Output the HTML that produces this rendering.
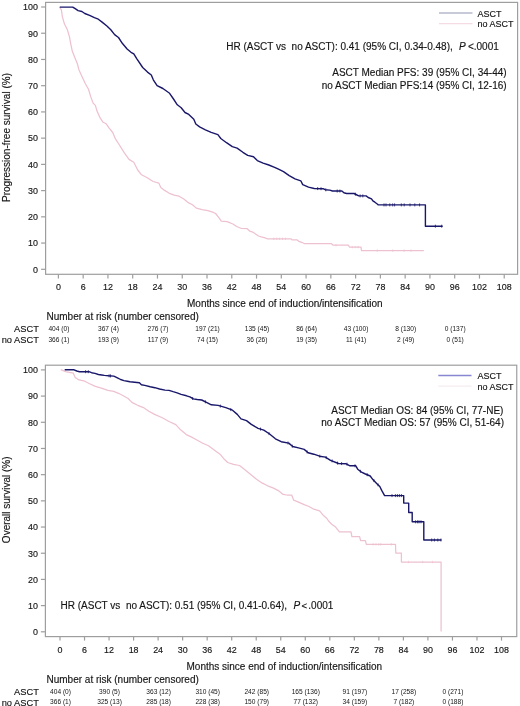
<!DOCTYPE html>
<html><head><meta charset="utf-8"><style>
html,body{margin:0;padding:0;background:#fff;}
svg{display:block;will-change:transform;}
text{font-family:"Liberation Sans", sans-serif;fill:#151515;stroke:#151515;stroke-width:0.15px;}
</style></head><body>
<svg width="520" height="706" viewBox="0 0 520 706">
<rect x="45.6" y="2.4" width="472.0" height="271.90000000000003" fill="none" stroke="#9e9e9e" stroke-width="1.2"/>
<line x1="41.1" y1="269.30" x2="45.6" y2="269.30" stroke="#9e9e9e" stroke-width="1.2"/>
<text font-size="9.7" text-anchor="end" transform="translate(38.0,272.60) scale(0.92,1)">0</text>
<line x1="41.1" y1="243.07" x2="45.6" y2="243.07" stroke="#9e9e9e" stroke-width="1.2"/>
<text font-size="9.7" text-anchor="end" transform="translate(38.0,246.37) scale(0.92,1)">10</text>
<line x1="41.1" y1="216.84" x2="45.6" y2="216.84" stroke="#9e9e9e" stroke-width="1.2"/>
<text font-size="9.7" text-anchor="end" transform="translate(38.0,220.14) scale(0.92,1)">20</text>
<line x1="41.1" y1="190.61" x2="45.6" y2="190.61" stroke="#9e9e9e" stroke-width="1.2"/>
<text font-size="9.7" text-anchor="end" transform="translate(38.0,193.91) scale(0.92,1)">30</text>
<line x1="41.1" y1="164.38" x2="45.6" y2="164.38" stroke="#9e9e9e" stroke-width="1.2"/>
<text font-size="9.7" text-anchor="end" transform="translate(38.0,167.68) scale(0.92,1)">40</text>
<line x1="41.1" y1="138.15" x2="45.6" y2="138.15" stroke="#9e9e9e" stroke-width="1.2"/>
<text font-size="9.7" text-anchor="end" transform="translate(38.0,141.45) scale(0.92,1)">50</text>
<line x1="41.1" y1="111.92" x2="45.6" y2="111.92" stroke="#9e9e9e" stroke-width="1.2"/>
<text font-size="9.7" text-anchor="end" transform="translate(38.0,115.22) scale(0.92,1)">60</text>
<line x1="41.1" y1="85.69" x2="45.6" y2="85.69" stroke="#9e9e9e" stroke-width="1.2"/>
<text font-size="9.7" text-anchor="end" transform="translate(38.0,88.99) scale(0.92,1)">70</text>
<line x1="41.1" y1="59.46" x2="45.6" y2="59.46" stroke="#9e9e9e" stroke-width="1.2"/>
<text font-size="9.7" text-anchor="end" transform="translate(38.0,62.76) scale(0.92,1)">80</text>
<line x1="41.1" y1="33.23" x2="45.6" y2="33.23" stroke="#9e9e9e" stroke-width="1.2"/>
<text font-size="9.7" text-anchor="end" transform="translate(38.0,36.53) scale(0.92,1)">90</text>
<line x1="41.1" y1="7.00" x2="45.6" y2="7.00" stroke="#9e9e9e" stroke-width="1.2"/>
<text font-size="9.7" text-anchor="end" transform="translate(38.0,10.30) scale(0.92,1)">100</text>
<line x1="58.40" y1="274.3" x2="58.40" y2="278.6" stroke="#9e9e9e" stroke-width="1.2"/>
<text font-size="9.7" text-anchor="middle" transform="translate(58.40,290.40000000000003) scale(0.92,1)">0</text>
<line x1="83.17" y1="274.3" x2="83.17" y2="278.6" stroke="#9e9e9e" stroke-width="1.2"/>
<text font-size="9.7" text-anchor="middle" transform="translate(83.17,290.40000000000003) scale(0.92,1)">6</text>
<line x1="107.94" y1="274.3" x2="107.94" y2="278.6" stroke="#9e9e9e" stroke-width="1.2"/>
<text font-size="9.7" text-anchor="middle" transform="translate(107.94,290.40000000000003) scale(0.92,1)">12</text>
<line x1="132.70" y1="274.3" x2="132.70" y2="278.6" stroke="#9e9e9e" stroke-width="1.2"/>
<text font-size="9.7" text-anchor="middle" transform="translate(132.70,290.40000000000003) scale(0.92,1)">18</text>
<line x1="157.47" y1="274.3" x2="157.47" y2="278.6" stroke="#9e9e9e" stroke-width="1.2"/>
<text font-size="9.7" text-anchor="middle" transform="translate(157.47,290.40000000000003) scale(0.92,1)">24</text>
<line x1="182.24" y1="274.3" x2="182.24" y2="278.6" stroke="#9e9e9e" stroke-width="1.2"/>
<text font-size="9.7" text-anchor="middle" transform="translate(182.24,290.40000000000003) scale(0.92,1)">30</text>
<line x1="207.01" y1="274.3" x2="207.01" y2="278.6" stroke="#9e9e9e" stroke-width="1.2"/>
<text font-size="9.7" text-anchor="middle" transform="translate(207.01,290.40000000000003) scale(0.92,1)">36</text>
<line x1="231.78" y1="274.3" x2="231.78" y2="278.6" stroke="#9e9e9e" stroke-width="1.2"/>
<text font-size="9.7" text-anchor="middle" transform="translate(231.78,290.40000000000003) scale(0.92,1)">42</text>
<line x1="256.54" y1="274.3" x2="256.54" y2="278.6" stroke="#9e9e9e" stroke-width="1.2"/>
<text font-size="9.7" text-anchor="middle" transform="translate(256.54,290.40000000000003) scale(0.92,1)">48</text>
<line x1="281.31" y1="274.3" x2="281.31" y2="278.6" stroke="#9e9e9e" stroke-width="1.2"/>
<text font-size="9.7" text-anchor="middle" transform="translate(281.31,290.40000000000003) scale(0.92,1)">54</text>
<line x1="306.08" y1="274.3" x2="306.08" y2="278.6" stroke="#9e9e9e" stroke-width="1.2"/>
<text font-size="9.7" text-anchor="middle" transform="translate(306.08,290.40000000000003) scale(0.92,1)">60</text>
<line x1="330.85" y1="274.3" x2="330.85" y2="278.6" stroke="#9e9e9e" stroke-width="1.2"/>
<text font-size="9.7" text-anchor="middle" transform="translate(330.85,290.40000000000003) scale(0.92,1)">66</text>
<line x1="355.62" y1="274.3" x2="355.62" y2="278.6" stroke="#9e9e9e" stroke-width="1.2"/>
<text font-size="9.7" text-anchor="middle" transform="translate(355.62,290.40000000000003) scale(0.92,1)">72</text>
<line x1="380.38" y1="274.3" x2="380.38" y2="278.6" stroke="#9e9e9e" stroke-width="1.2"/>
<text font-size="9.7" text-anchor="middle" transform="translate(380.38,290.40000000000003) scale(0.92,1)">78</text>
<line x1="405.15" y1="274.3" x2="405.15" y2="278.6" stroke="#9e9e9e" stroke-width="1.2"/>
<text font-size="9.7" text-anchor="middle" transform="translate(405.15,290.40000000000003) scale(0.92,1)">84</text>
<line x1="429.92" y1="274.3" x2="429.92" y2="278.6" stroke="#9e9e9e" stroke-width="1.2"/>
<text font-size="9.7" text-anchor="middle" transform="translate(429.92,290.40000000000003) scale(0.92,1)">90</text>
<line x1="454.69" y1="274.3" x2="454.69" y2="278.6" stroke="#9e9e9e" stroke-width="1.2"/>
<text font-size="9.7" text-anchor="middle" transform="translate(454.69,290.40000000000003) scale(0.92,1)">96</text>
<line x1="479.46" y1="274.3" x2="479.46" y2="278.6" stroke="#9e9e9e" stroke-width="1.2"/>
<text font-size="9.7" text-anchor="middle" transform="translate(479.46,290.40000000000003) scale(0.92,1)">102</text>
<line x1="504.22" y1="274.3" x2="504.22" y2="278.6" stroke="#9e9e9e" stroke-width="1.2"/>
<text font-size="9.7" text-anchor="middle" transform="translate(504.22,290.40000000000003) scale(0.92,1)">108</text>
<text x="187.0" y="307.3" font-size="10" text-anchor="start" >Months since end of induction/intensification</text>
<text x="0" y="0" font-size="10" text-anchor="middle" transform="translate(10.0,137.5) rotate(-90)">Progression-free survival (%)</text>
<line x1="439" y1="13.0" x2="472.5" y2="13.0" stroke="#9196b4" stroke-width="1.1"/>
<line x1="439" y1="23.6" x2="472.5" y2="23.6" stroke="#f5dbe3" stroke-width="1.2"/>
<text x="477.5" y="16.6" font-size="9" text-anchor="start" >ASCT</text>
<text x="477.5" y="27.2" font-size="9" text-anchor="start" >no ASCT</text>
<text x="46.5" y="320.0" font-size="10" text-anchor="start" >Number at risk (number censored)</text>
<text x="38.9" y="332.0" font-size="9.3" text-anchor="end" >ASCT</text>
<text x="38.9" y="343.0" font-size="9.3" text-anchor="end" >no ASCT</text>
<text x="58.90" y="331.0" font-size="6.6" text-anchor="middle" style="stroke-width:0">404 (0)</text>
<text x="58.90" y="341.7" font-size="6.6" text-anchor="middle" style="stroke-width:0">366 (1)</text>
<text x="108.44" y="331.0" font-size="6.6" text-anchor="middle" style="stroke-width:0">367 (4)</text>
<text x="108.44" y="341.7" font-size="6.6" text-anchor="middle" style="stroke-width:0">193 (9)</text>
<text x="157.97" y="331.0" font-size="6.6" text-anchor="middle" style="stroke-width:0">276 (7)</text>
<text x="157.97" y="341.7" font-size="6.6" text-anchor="middle" style="stroke-width:0">117 (9)</text>
<text x="207.51" y="331.0" font-size="6.6" text-anchor="middle" style="stroke-width:0">197 (21)</text>
<text x="207.51" y="341.7" font-size="6.6" text-anchor="middle" style="stroke-width:0">74 (15)</text>
<text x="257.04" y="331.0" font-size="6.6" text-anchor="middle" style="stroke-width:0">135 (45)</text>
<text x="257.04" y="341.7" font-size="6.6" text-anchor="middle" style="stroke-width:0">36 (26)</text>
<text x="306.58" y="331.0" font-size="6.6" text-anchor="middle" style="stroke-width:0">86 (64)</text>
<text x="306.58" y="341.7" font-size="6.6" text-anchor="middle" style="stroke-width:0">19 (35)</text>
<text x="356.12" y="331.0" font-size="6.6" text-anchor="middle" style="stroke-width:0">43 (100)</text>
<text x="356.12" y="341.7" font-size="6.6" text-anchor="middle" style="stroke-width:0">11 (41)</text>
<text x="405.65" y="331.0" font-size="6.6" text-anchor="middle" style="stroke-width:0">8 (130)</text>
<text x="405.65" y="341.7" font-size="6.6" text-anchor="middle" style="stroke-width:0">2 (49)</text>
<text x="455.19" y="331.0" font-size="6.6" text-anchor="middle" style="stroke-width:0">0 (137)</text>
<text x="455.19" y="341.7" font-size="6.6" text-anchor="middle" style="stroke-width:0">0 (51)</text>
<rect x="45.4" y="365.2" width="471.35" height="271.40000000000003" fill="none" stroke="#9e9e9e" stroke-width="1.2"/>
<line x1="40.9" y1="631.80" x2="45.4" y2="631.80" stroke="#9e9e9e" stroke-width="1.2"/>
<text font-size="9.7" text-anchor="end" transform="translate(38.0,635.10) scale(0.92,1)">0</text>
<line x1="40.9" y1="605.61" x2="45.4" y2="605.61" stroke="#9e9e9e" stroke-width="1.2"/>
<text font-size="9.7" text-anchor="end" transform="translate(38.0,608.91) scale(0.92,1)">10</text>
<line x1="40.9" y1="579.42" x2="45.4" y2="579.42" stroke="#9e9e9e" stroke-width="1.2"/>
<text font-size="9.7" text-anchor="end" transform="translate(38.0,582.72) scale(0.92,1)">20</text>
<line x1="40.9" y1="553.23" x2="45.4" y2="553.23" stroke="#9e9e9e" stroke-width="1.2"/>
<text font-size="9.7" text-anchor="end" transform="translate(38.0,556.53) scale(0.92,1)">30</text>
<line x1="40.9" y1="527.04" x2="45.4" y2="527.04" stroke="#9e9e9e" stroke-width="1.2"/>
<text font-size="9.7" text-anchor="end" transform="translate(38.0,530.34) scale(0.92,1)">40</text>
<line x1="40.9" y1="500.85" x2="45.4" y2="500.85" stroke="#9e9e9e" stroke-width="1.2"/>
<text font-size="9.7" text-anchor="end" transform="translate(38.0,504.15) scale(0.92,1)">50</text>
<line x1="40.9" y1="474.66" x2="45.4" y2="474.66" stroke="#9e9e9e" stroke-width="1.2"/>
<text font-size="9.7" text-anchor="end" transform="translate(38.0,477.96) scale(0.92,1)">60</text>
<line x1="40.9" y1="448.47" x2="45.4" y2="448.47" stroke="#9e9e9e" stroke-width="1.2"/>
<text font-size="9.7" text-anchor="end" transform="translate(38.0,451.77) scale(0.92,1)">70</text>
<line x1="40.9" y1="422.28" x2="45.4" y2="422.28" stroke="#9e9e9e" stroke-width="1.2"/>
<text font-size="9.7" text-anchor="end" transform="translate(38.0,425.58) scale(0.92,1)">80</text>
<line x1="40.9" y1="396.09" x2="45.4" y2="396.09" stroke="#9e9e9e" stroke-width="1.2"/>
<text font-size="9.7" text-anchor="end" transform="translate(38.0,399.39) scale(0.92,1)">90</text>
<line x1="40.9" y1="369.90" x2="45.4" y2="369.90" stroke="#9e9e9e" stroke-width="1.2"/>
<text font-size="9.7" text-anchor="end" transform="translate(38.0,373.20) scale(0.92,1)">100</text>
<line x1="60.00" y1="636.6" x2="60.00" y2="640.6" stroke="#9e9e9e" stroke-width="1.2"/>
<text font-size="9.7" text-anchor="middle" transform="translate(60.00,652.7) scale(0.92,1)">0</text>
<line x1="84.53" y1="636.6" x2="84.53" y2="640.6" stroke="#9e9e9e" stroke-width="1.2"/>
<text font-size="9.7" text-anchor="middle" transform="translate(84.53,652.7) scale(0.92,1)">6</text>
<line x1="109.06" y1="636.6" x2="109.06" y2="640.6" stroke="#9e9e9e" stroke-width="1.2"/>
<text font-size="9.7" text-anchor="middle" transform="translate(109.06,652.7) scale(0.92,1)">12</text>
<line x1="133.58" y1="636.6" x2="133.58" y2="640.6" stroke="#9e9e9e" stroke-width="1.2"/>
<text font-size="9.7" text-anchor="middle" transform="translate(133.58,652.7) scale(0.92,1)">18</text>
<line x1="158.11" y1="636.6" x2="158.11" y2="640.6" stroke="#9e9e9e" stroke-width="1.2"/>
<text font-size="9.7" text-anchor="middle" transform="translate(158.11,652.7) scale(0.92,1)">24</text>
<line x1="182.64" y1="636.6" x2="182.64" y2="640.6" stroke="#9e9e9e" stroke-width="1.2"/>
<text font-size="9.7" text-anchor="middle" transform="translate(182.64,652.7) scale(0.92,1)">30</text>
<line x1="207.17" y1="636.6" x2="207.17" y2="640.6" stroke="#9e9e9e" stroke-width="1.2"/>
<text font-size="9.7" text-anchor="middle" transform="translate(207.17,652.7) scale(0.92,1)">36</text>
<line x1="231.70" y1="636.6" x2="231.70" y2="640.6" stroke="#9e9e9e" stroke-width="1.2"/>
<text font-size="9.7" text-anchor="middle" transform="translate(231.70,652.7) scale(0.92,1)">42</text>
<line x1="256.22" y1="636.6" x2="256.22" y2="640.6" stroke="#9e9e9e" stroke-width="1.2"/>
<text font-size="9.7" text-anchor="middle" transform="translate(256.22,652.7) scale(0.92,1)">48</text>
<line x1="280.75" y1="636.6" x2="280.75" y2="640.6" stroke="#9e9e9e" stroke-width="1.2"/>
<text font-size="9.7" text-anchor="middle" transform="translate(280.75,652.7) scale(0.92,1)">54</text>
<line x1="305.28" y1="636.6" x2="305.28" y2="640.6" stroke="#9e9e9e" stroke-width="1.2"/>
<text font-size="9.7" text-anchor="middle" transform="translate(305.28,652.7) scale(0.92,1)">60</text>
<line x1="329.81" y1="636.6" x2="329.81" y2="640.6" stroke="#9e9e9e" stroke-width="1.2"/>
<text font-size="9.7" text-anchor="middle" transform="translate(329.81,652.7) scale(0.92,1)">66</text>
<line x1="354.34" y1="636.6" x2="354.34" y2="640.6" stroke="#9e9e9e" stroke-width="1.2"/>
<text font-size="9.7" text-anchor="middle" transform="translate(354.34,652.7) scale(0.92,1)">72</text>
<line x1="378.86" y1="636.6" x2="378.86" y2="640.6" stroke="#9e9e9e" stroke-width="1.2"/>
<text font-size="9.7" text-anchor="middle" transform="translate(378.86,652.7) scale(0.92,1)">78</text>
<line x1="403.39" y1="636.6" x2="403.39" y2="640.6" stroke="#9e9e9e" stroke-width="1.2"/>
<text font-size="9.7" text-anchor="middle" transform="translate(403.39,652.7) scale(0.92,1)">84</text>
<line x1="427.92" y1="636.6" x2="427.92" y2="640.6" stroke="#9e9e9e" stroke-width="1.2"/>
<text font-size="9.7" text-anchor="middle" transform="translate(427.92,652.7) scale(0.92,1)">90</text>
<line x1="452.45" y1="636.6" x2="452.45" y2="640.6" stroke="#9e9e9e" stroke-width="1.2"/>
<text font-size="9.7" text-anchor="middle" transform="translate(452.45,652.7) scale(0.92,1)">96</text>
<line x1="476.98" y1="636.6" x2="476.98" y2="640.6" stroke="#9e9e9e" stroke-width="1.2"/>
<text font-size="9.7" text-anchor="middle" transform="translate(476.98,652.7) scale(0.92,1)">102</text>
<line x1="501.50" y1="636.6" x2="501.50" y2="640.6" stroke="#9e9e9e" stroke-width="1.2"/>
<text font-size="9.7" text-anchor="middle" transform="translate(501.50,652.7) scale(0.92,1)">108</text>
<text x="186.5" y="669.7" font-size="10" text-anchor="start" >Months since end of induction/intensification</text>
<text x="0" y="0" font-size="10" text-anchor="middle" transform="translate(10.0,499.8) rotate(-90)">Overall survival (%)</text>
<line x1="438.3" y1="375.5" x2="471.5" y2="375.5" stroke="#8987d2" stroke-width="1.5"/>
<line x1="438.3" y1="386.1" x2="471.5" y2="386.1" stroke="#f6edf0" stroke-width="1.2"/>
<text x="477.5" y="379.1" font-size="9" text-anchor="start" >ASCT</text>
<text x="477.5" y="389.7" font-size="9" text-anchor="start" >no ASCT</text>
<text x="46.5" y="682.5" font-size="10" text-anchor="start" >Number at risk (number censored)</text>
<text x="38.9" y="694.5" font-size="9.3" text-anchor="end" >ASCT</text>
<text x="38.9" y="705.5" font-size="9.3" text-anchor="end" >no ASCT</text>
<text x="60.50" y="693.5" font-size="6.6" text-anchor="middle" style="stroke-width:0">404 (0)</text>
<text x="60.50" y="704.2" font-size="6.6" text-anchor="middle" style="stroke-width:0">366 (1)</text>
<text x="109.56" y="693.5" font-size="6.6" text-anchor="middle" style="stroke-width:0">390 (5)</text>
<text x="109.56" y="704.2" font-size="6.6" text-anchor="middle" style="stroke-width:0">325 (13)</text>
<text x="158.61" y="693.5" font-size="6.6" text-anchor="middle" style="stroke-width:0">363 (12)</text>
<text x="158.61" y="704.2" font-size="6.6" text-anchor="middle" style="stroke-width:0">285 (18)</text>
<text x="207.67" y="693.5" font-size="6.6" text-anchor="middle" style="stroke-width:0">310 (45)</text>
<text x="207.67" y="704.2" font-size="6.6" text-anchor="middle" style="stroke-width:0">228 (38)</text>
<text x="256.72" y="693.5" font-size="6.6" text-anchor="middle" style="stroke-width:0">242 (85)</text>
<text x="256.72" y="704.2" font-size="6.6" text-anchor="middle" style="stroke-width:0">150 (79)</text>
<text x="305.78" y="693.5" font-size="6.6" text-anchor="middle" style="stroke-width:0">165 (136)</text>
<text x="305.78" y="704.2" font-size="6.6" text-anchor="middle" style="stroke-width:0">77 (132)</text>
<text x="354.84" y="693.5" font-size="6.6" text-anchor="middle" style="stroke-width:0">91 (197)</text>
<text x="354.84" y="704.2" font-size="6.6" text-anchor="middle" style="stroke-width:0">34 (159)</text>
<text x="403.89" y="693.5" font-size="6.6" text-anchor="middle" style="stroke-width:0">17 (258)</text>
<text x="403.89" y="704.2" font-size="6.6" text-anchor="middle" style="stroke-width:0">7 (182)</text>
<text x="452.95" y="693.5" font-size="6.6" text-anchor="middle" style="stroke-width:0">0 (271)</text>
<text x="452.95" y="704.2" font-size="6.6" text-anchor="middle" style="stroke-width:0">0 (188)</text>
<text x="226.2" y="50.0" font-size="10" text-anchor="start" xml:space="preserve">HR (ASCT vs  no ASCT): 0.41 (95% CI, 0.34-0.48),</text>
<text x="458.9" y="50.0" font-size="10" text-anchor="start" font-style="italic">P</text>
<text x="467.9" y="50.0" font-size="10" text-anchor="start" >&lt;.0001</text>
<text x="506.6" y="75.8" font-size="10" text-anchor="end" >ASCT Median PFS: 39 (95% CI, 34-44)</text>
<text x="506.6" y="88.9" font-size="10" text-anchor="end" >no ASCT Median PFS:14 (95% CI, 12-16)</text>
<text x="503.4" y="413.5" font-size="10" text-anchor="end" >ASCT Median OS: 84 (95% CI, 77-NE)</text>
<text x="504.0" y="425.8" font-size="10" text-anchor="end" >no ASCT Median OS: 57 (95% CI, 51-64)</text>
<text x="60.5" y="609.3" font-size="10" text-anchor="start" xml:space="preserve">HR (ASCT vs  no ASCT): 0.51 (95% CI, 0.41-0.64),</text>
<text x="293.5" y="609.3" font-size="10" text-anchor="start" font-style="italic">P</text>
<text x="301.4" y="609.3" font-size="9.5" text-anchor="start" >&lt;</text>
<text x="308.3" y="609.3" font-size="10" text-anchor="start" >.0001</text>
<path d="M59.3,7.0 L61.4,9.9 L62.4,16.9 L64.4,23.8 L67.4,29.8 L69.4,36.7 L70.9,44.6 L72.4,51.6 L74.8,57.5 L77.3,63.5 L78.8,69.4 L81.5,75.4 L85.4,83.8 L88.5,89.2 L90.8,96.9 L93.1,103.1 L95.4,105.4 L96.9,110.8 L100.0,117.7 L103.1,122.3 L106.2,123.8 L108.8,127.7 L112.7,132.5 L115.6,139.2 L119.4,145.0 L124.2,152.7 L129.0,159.4 L133.8,162.3 L137.7,170.0 L141.5,174.8 L147.3,177.7 L153.1,181.5 L158.8,183.1 L160.8,187.5 L164.6,190.4 L169.4,193.3 L174.2,195.2 L179.0,196.2 L183.8,199.0 L188.7,202.9 L192.5,204.8 L196.3,208.1 L202.1,209.6 L207.9,210.6 L212.7,212.1 L215.6,213.5 L219.4,218.3 L221.3,221.2 L227.1,221.7 L232.9,224.0 L236.7,226.5 L241.5,228.5 L247.3,228.7 L249.8,231.2 L252.7,232.1 L255.6,234.0 L258.5,236.0 L261.3,236.9 L265.2,237.9 L267.1,238.8 L291.2,238.8 L292.1,239.8 L296.9,239.8 L298.8,241.3 L301.7,242.3 L304.6,243.7 L331.5,243.7 L333.1,245.2 L348.5,245.2 L349.4,247.1 L361.0,247.1 L361.5,250.6 L423.8,250.6" fill="none" stroke="#eec1cf" stroke-width="1.25" stroke-linejoin="round"/>
<path d="M60.8,369.7 L65.6,371.6 L73.3,373.2 L75.2,377.4 L79.0,379.9 L84.8,381.2 L89.6,383.7 L95.4,386.4 L102.1,388.3 L107.9,390.3 L113.7,391.4 L118.5,393.3 L123.3,395.7 L128.1,398.5 L131.9,402.4 L137.7,405.3 L143.5,407.6 L148.8,411.2 L154.6,414.4 L162.3,417.7 L169.0,421.5 L175.8,424.6 L180.6,429.8 L186.3,434.6 L191.2,436.9 L196.9,440.0 L202.7,443.3 L208.5,445.8 L214.2,450.0 L220.0,454.2 L223.8,458.7 L227.7,462.5 L233.5,464.4 L239.5,465.5 L244.6,469.4 L250.4,474.2 L256.2,479.0 L261.9,482.9 L267.7,485.8 L273.5,488.1 L278.3,490.6 L283.1,494.4 L286.9,495.0 L291.7,495.0 L293.7,500.2 L298.5,502.1 L304.2,504.6 L309.0,506.5 L313.8,509.2 L319.6,510.8 L323.5,515.6 L326.9,518.5 L328.8,521.3 L331.7,524.2 L335.6,527.1 L339.4,531.9 L351.0,531.9 L351.9,536.7 L359.6,536.7 L360.6,540.6 L365.4,540.6 L366.3,544.4 L395.5,544.4 L395.8,553.1 L401.4,553.1 L401.4,562.0 L441.1,562.0 L441.1,631.4" fill="none" stroke="#eec1cf" stroke-width="1.25" stroke-linejoin="round"/>
<path d="M273.8,237.6 V240.0 M276.7,237.6 V240.0 M279.6,237.6 V240.0 M282.5,237.6 V240.0 M285.4,237.6 V240.0 M336.0,244.0 V246.4 M352.3,245.9 V248.3 M355.2,245.9 V248.3 M358.1,245.9 V248.3 M377.3,249.4 V251.8 M392.7,249.4 V251.8 M404.2,249.4 V251.8 M411.0,249.4 V251.8" stroke="#eec1cf" stroke-width="0.7" fill="none"/>
<path d="M373.1,543.2 V545.6 M376.0,543.2 V545.6 M378.8,543.2 V545.6 M380.8,543.2 V545.6 M391.3,543.2 V545.6 M408.6,560.8 V563.2 M422.7,560.8 V563.2 M432.6,560.8 V563.2" stroke="#eec1cf" stroke-width="0.7" fill="none"/>
<path d="M59.8,7.1 L72.7,7.1 L75.2,8.7 L78.1,10.6 L81.9,11.5 L84.8,13.5 L89.6,15.4 L94.4,17.7 L98.3,19.2 L102.1,22.1 L106.9,26.0 L110.8,29.8 L114.6,34.6 L118.5,37.5 L122.3,43.3 L127.1,49.0 L131.0,52.3 L133.8,53.8 L136.7,58.7 L142.7,67.5 L147.5,72.1 L151.3,75.0 L153.3,79.8 L157.1,85.6 L162.9,88.5 L169.6,93.3 L173.5,99.0 L177.3,104.8 L181.2,107.7 L185.0,112.5 L188.8,114.4 L193.8,119.2 L195.8,124.0 L199.6,126.9 L205.4,129.8 L211.2,132.3 L217.9,134.6 L220.8,138.5 L226.5,142.7 L232.3,146.7 L237.1,148.1 L242.9,152.3 L247.7,155.4 L253.5,156.7 L257.3,160.6 L263.1,163.1 L268.8,165.0 L274.6,167.3 L278.5,169.2 L283.5,171.7 L289.2,175.6 L295.0,178.8 L300.8,180.8 L302.7,184.6 L308.5,187.1 L314.2,188.5 L323.1,188.7 L325.1,189.7 L329.8,190.1 L332.5,191.0 L341.9,191.0 L343.9,192.8 L346.6,193.5 L354.0,193.5 L356.0,194.5 L358.7,195.9 L366.1,195.9 L368.2,197.5 L371.5,198.8 L372.9,200.9 L374.9,202.2 L377.6,204.2 L378.3,204.9 L425.4,204.9 L425.4,226.2 L442.7,226.2" fill="none" stroke="#19176a" stroke-width="1.4" stroke-linejoin="round"/>
<path d="M64.7,369.8 L74.1,369.8 L76.8,371.0 L79.5,371.7 L88.9,371.7 L91.6,372.7 L95.0,373.4 L98.4,374.5 L101.7,375.0 L104.4,375.4 L108.5,375.8 L113.8,376.1 L115.9,377.1 L117.9,378.1 L120.6,379.5 L124.0,380.6 L127.3,381.2 L130.0,381.8 L139.4,382.7 L141.4,384.7 L144.8,385.4 L150.2,386.7 L154.9,387.7 L159.6,389.0 L165.0,390.1 L169.0,390.4 L173.1,391.7 L177.1,392.8 L181.1,394.4 L186.5,395.8 L189.9,396.8 L193.3,398.9 L197.3,399.5 L201.7,400.0 L206.5,402.3 L211.3,404.8 L218.1,405.4 L225.8,407.7 L232.5,410.2 L237.3,414.4 L241.0,418.9 L246.5,420.6 L251.3,424.4 L258.1,428.3 L263.8,430.2 L269.6,434.0 L275.4,438.8 L281.2,441.7 L288.8,443.1 L292.7,446.5 L298.5,447.9 L304.2,449.4 L308.1,452.7 L313.8,454.2 L319.6,456.2 L325.4,457.1 L330.5,460.3 L338.5,463.5 L346.2,463.8 L350.0,465.8 L355.8,465.8 L357.7,469.2 L361.5,472.1 L365.4,474.0 L370.2,476.0 L373.1,479.8 L376.9,483.7 L379.8,486.5 L381.7,490.4 L384.6,495.6 L403.7,495.6 L403.7,503.1 L408.7,503.1 L408.7,512.5 L412.2,512.5 L412.2,521.8 L423.8,521.8 L423.8,540.0 L441.5,540.0" fill="none" stroke="#19176a" stroke-width="1.4" stroke-linejoin="round"/>
<path d="M317.7,187.1 V190.1 M321.0,187.2 V190.2 M325.8,188.3 V191.3 M337.2,189.5 V192.5 M339.9,189.5 V192.5 M355.4,192.7 V195.7 M360.1,194.4 V197.4 M362.8,194.4 V197.4 M384.0,203.4 V206.4 M386.0,203.4 V206.4 M389.8,203.4 V206.4 M392.7,203.4 V206.4 M394.6,203.4 V206.4 M401.3,203.4 V206.4 M404.2,203.4 V206.4 M410.0,203.4 V206.4 M414.8,203.4 V206.4 M419.6,203.4 V206.4 M435.4,224.7 V227.7 M441.7,224.7 V227.7" stroke="#19176a" stroke-width="0.8" fill="none"/>
<path d="M85.6,370.2 V373.2 M88.3,370.2 V373.2 M109.1,374.3 V377.3 M110.5,374.4 V377.4 M192.7,397.0 V400.0 M205.4,400.3 V403.3 M220.3,404.6 V407.6 M230.8,408.1 V411.1 M260.5,427.6 V430.6 M269.0,432.1 V435.1 M288.0,441.5 V444.5 M292.3,444.7 V447.7 M307.1,450.4 V453.4 M319.8,454.7 V457.7 M326.2,456.1 V459.1 M332.1,459.4 V462.4 M337.5,461.6 V464.6 M341.6,462.1 V465.1 M347.0,462.7 V465.7 M355.0,464.3 V467.3 M360.4,469.8 V472.8 M367.2,473.2 V476.2 M373.9,479.1 V482.1 M378.0,483.3 V486.3 M392.0,494.1 V497.1 M395.4,494.1 V497.1 M397.4,494.1 V497.1 M399.4,494.1 V497.1 M401.4,494.1 V497.1 M415.6,520.3 V523.3 M417.6,520.3 V523.3 M419.0,520.3 V523.3 M421.0,520.3 V523.3 M431.7,538.5 V541.5 M434.4,538.5 V541.5 M437.8,538.5 V541.5 M440.9,538.5 V541.5" stroke="#19176a" stroke-width="0.8" fill="none"/>
</svg>
</body></html>
